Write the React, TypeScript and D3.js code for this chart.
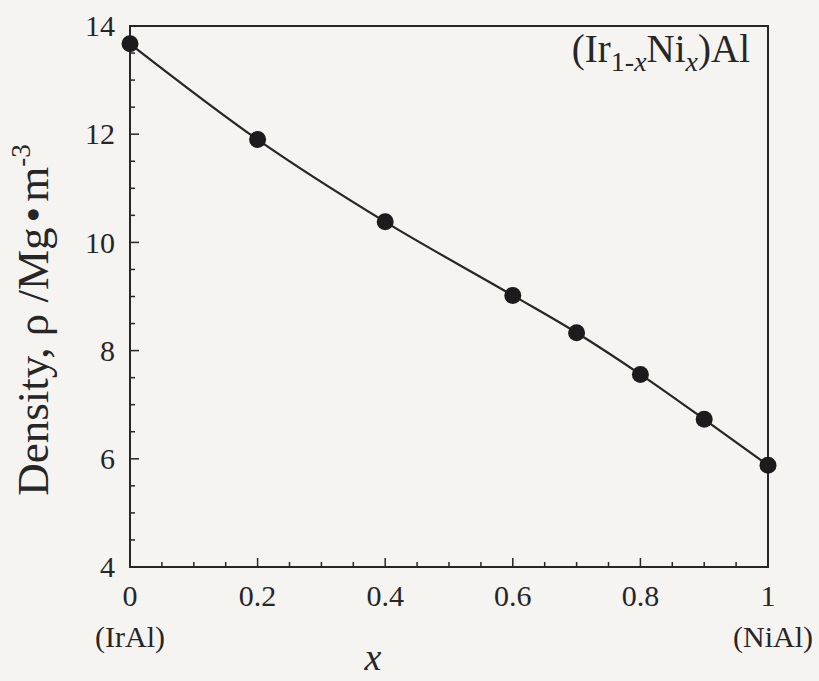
import React from "react";
import * as d3 from "d3";

const xValues = [0, 0.2, 0.4, 0.6, 0.7, 0.8, 0.9, 1.0];
const densityValues = [13.67, 11.9, 10.38, 9.02, 8.33, 7.56, 6.73, 5.88];
const yTickValues = [4, 6, 8, 10, 12, 14];
const xTickValues = [0, 0.2, 0.4, 0.6, 0.8, 1];
const xTickLabels = ["0", "0.2", "0.4", "0.6", "0.8", "1"];

const W = 819;
const H = 681;
const m = { left: 130, right: 768, top: 26, bottom: 567 };
const ink = "#262626";
const font = "'Liberation Serif', 'DejaVu Serif', serif";

export default function App() {
  const x = d3.scaleLinear().domain([0, 1]).range([m.left, m.right]);
  const y = d3.scaleLinear().domain([4, 14]).range([m.bottom, m.top]);
  const pts = xValues.map((v, i) => [v, densityValues[i]] as [number, number]);
  const line = d3
    .line<[number, number]>()
    .x((d) => x(d[0]))
    .y((d) => y(d[1]))
    .curve(d3.curveMonotoneX);

  const xMinor = d3.range(0, 1.0001, 0.05);
  const yMinor = d3.range(4, 14.0001, 0.5);

  return (
    <svg
      width={W}
      height={H}
      style={{ position: "absolute", left: 0, top: 0, background: "#f6f4f1" }}
      fontFamily={font}
    >
      <rect x={0} y={0} width={W} height={H} fill="#f6f4f1" />
      {xMinor.map((t, i) => {
        const major = Math.abs(t * 5 - Math.round(t * 5)) < 1e-6;
        return (
          <line
            key={"xt" + i}
            x1={x(t)}
            x2={x(t)}
            y1={m.bottom}
            y2={m.bottom - (major ? 9 : 5)}
            stroke={ink}
            strokeWidth={1.5}
          />
        );
      })}
      {yMinor.map((t, i) => {
        const major = Math.abs(t / 2 - Math.round(t / 2)) < 1e-6;
        return (
          <line
            key={"yt" + i}
            x1={m.left}
            x2={m.left + (major ? 9 : 5)}
            y1={y(t)}
            y2={y(t)}
            stroke={ink}
            strokeWidth={1.5}
          />
        );
      })}
      <rect
        x={m.left}
        y={m.top}
        width={m.right - m.left}
        height={m.bottom - m.top}
        fill="none"
        stroke={ink}
        strokeWidth={2}
      />
      {yTickValues.map((t) => (
        <text
          key={"yl" + t}
          x={m.left - 15}
          y={y(t)}
          dy="0.34em"
          textAnchor="end"
          fontSize={30}
          fill={ink}
        >
          {t}
        </text>
      ))}
      {xTickValues.map((t, i) => (
        <text
          key={"xl" + t}
          x={x(t)}
          y={606}
          textAnchor="middle"
          fontSize={30}
          fill={ink}
        >
          {xTickLabels[i]}
        </text>
      ))}
      <text x={x(0)} y={647} textAnchor="middle" fontSize={30} fill={ink}>
        (IrAl)
      </text>
      <text x={x(1) + 5} y={647} textAnchor="middle" fontSize={30} fill={ink}>
        (NiAl)
      </text>
      <text x={373} y={670} textAnchor="middle" fontSize={38} fontStyle="italic" fill={ink}>
        x
      </text>
      <text
        transform={`translate(48, 320) rotate(-90)`}
        textAnchor="middle"
        fontSize={45}
        fill={ink}
      >
        Density, ρ /Mg<tspan dx="5">•</tspan><tspan dx="5">m</tspan>
        <tspan fontSize={27} dy="-18">-3</tspan>
      </text>
      <text x={750} y={62} textAnchor="end" fontSize={39} fill={ink}>
        (Ir<tspan fontSize={28} dy="9">1-</tspan>
        <tspan fontSize={28} fontStyle="italic">x</tspan>
        <tspan dy="-9">Ni</tspan>
        <tspan fontSize={28} fontStyle="italic" dy="9">x</tspan>
        <tspan dy="-9">)Al</tspan>
      </text>
      <path d={line(pts) || ""} fill="none" stroke={ink} strokeWidth={2.2} />
      {pts.map((p, i) => (
        <circle key={"pt" + i} cx={x(p[0])} cy={y(p[1])} r={8.5} fill="#1c1c1c" />
      ))}
    </svg>
  );
}
